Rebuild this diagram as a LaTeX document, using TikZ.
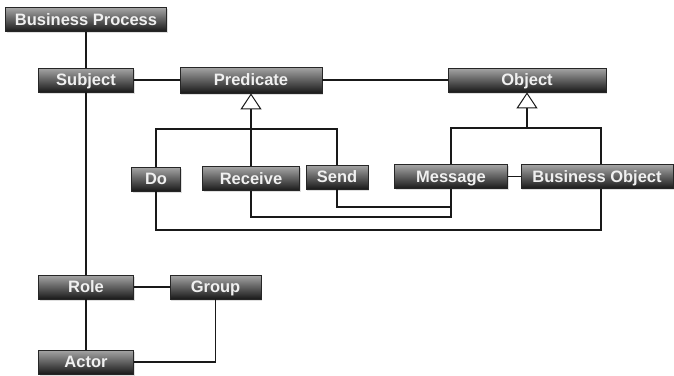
\documentclass[tikz,border=0pt]{standalone}
\usepackage{fontspec}
\setmainfont{Liberation Sans}
\usetikzlibrary{arrows.meta,shadows}
\begin{document}
\begin{tikzpicture}[x=1pt,y=-1pt,
  cls/.style={draw=black!85, line width=0.8pt, rectangle, inner sep=0pt,
    minimum height=24pt, top color=black!35, middle color=black!62, bottom color=black!90,
    text=white!94!black, font=\fontsize{16.5}{17}\selectfont\bfseries,
    text height=11.8pt, text depth=0pt,
    drop shadow={shadow xshift=1pt, shadow yshift=-1.5pt, opacity=0.25}},
  link/.style={line width=1.8pt, black!90},
  gen/.style={link, -{Triangle[open, length=16pt, width=21pt, line width=1pt]}}
]
\useasboundingbox (0,0) rectangle (674,375);
\fill[white] (0,0) rectangle (674,375);

% classes
\node[cls, minimum width=161pt] (bp) at (86,19.5) {Business Process};
\node[cls, minimum width=95pt] (subj) at (86,80) {Subject};
\node[cls, minimum width=142pt, minimum height=26pt] (pred) at (251,80) {Predicate};
\node[cls, minimum width=158pt] (obj) at (527,80) {Object};
\node[cls, minimum width=49pt] (do) at (156,179) {Do};
\node[cls, minimum width=97pt] (recv) at (251,178.5) {Receive};
\node[cls, minimum width=62pt] (send) at (337,177) {Send};
\node[cls, minimum width=113pt] (msg) at (451,176.5) {Message};
\node[cls, minimum width=152pt] (bo) at (597,176.5) {Business Object};
\node[cls, minimum width=95pt] (role) at (86,287) {Role};
\node[cls, minimum width=91pt] (group) at (215.5,287) {Group};
\node[cls, minimum width=95pt] (actor) at (86,362) {Actor};

% junction points
\coordinate (pj) at (251,129);
\coordinate (oj) at (527,128);
\coordinate (bon) at ([xshift=4pt]bo.north);
\coordinate (bos) at ([xshift=4pt]bo.south);

% associations
\draw[link] (bp.south) -- (subj.north);
\draw[link] (subj.east) -- (pred.west);
\draw[link] (pred.east) -- (obj.west);
\draw[link] (subj.south) -- (role.north);
\draw[link] (role.east) -- (group.west);
\draw[link] (role.south) -- (actor.north);
\draw[link] (group.south) |- (actor.east);
\draw[link] (msg.east) -- (bo.west);

% generalizations
\draw[link] (do.north) |- (pj) -| (send.north);
\draw[gen] (recv.north) -- (pred.south);
\draw[link] (msg.north) |- (oj) -| (bon);
\draw[gen] (oj) -- (obj.south);

% lower links
\draw[link] (send.south) |- (msg.south |- 0,207);
\draw[link] (recv.south) |- (msg.south |- 0,217) -- (msg.south);
\draw[link] (do.south) |- (bos |- 0,230) -- (bos);
\end{tikzpicture}
\end{document}
